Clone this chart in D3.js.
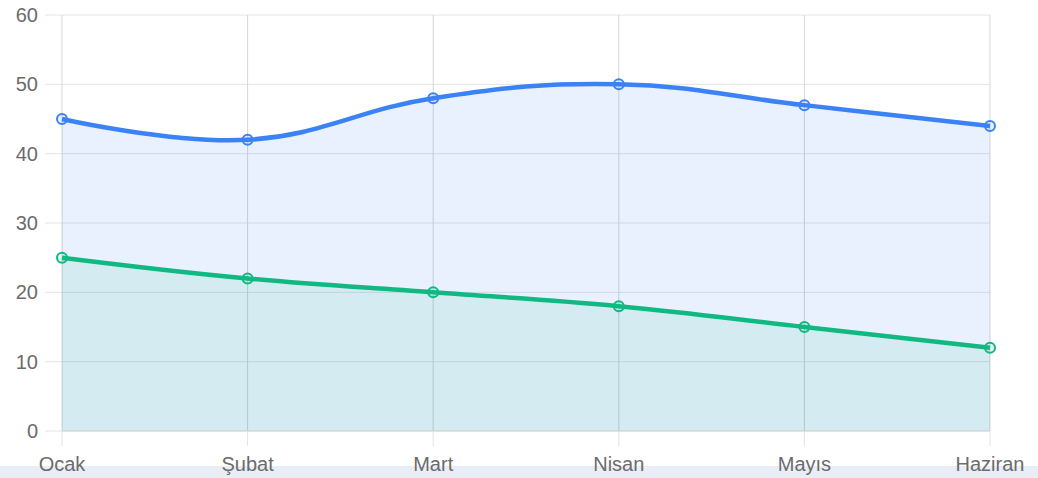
<!DOCTYPE html>
<html>
<head>
<meta charset="utf-8">
<script src="https://cdn.jsdelivr.net/npm/d3@7"></script>
<style>
  html, body { margin: 0; padding: 0; background: #fff; }
  svg { display: block; }
</style>
</head>
<body>
<div id="chart"></div>
<script>
const months = ["Ocak", "Şubat", "Mart", "Nisan", "Mayıs", "Haziran"];
const blueValues = [45, 42, 48, 50, 47, 44];
const greenValues = [25, 22, 20, 18, 15, 12];
const yTicks = [0, 10, 20, 30, 40, 50, 60];

const width = 1038, height = 478;

const svg = d3.select("#chart").append("svg")
  .attr("width", width)
  .attr("height", height);

// light strip at the bottom of the page
svg.append("rect")
  .attr("x", 0).attr("y", 466)
  .attr("width", width).attr("height", 12)
  .attr("fill", "#e9eef6");

const x = d3.scalePoint().domain(months).range([62, 990]);
const y = d3.scaleLinear().domain([0, 60]).range([431, 15]);

const grid = "#e4e4e4";

// horizontal grid + y tick marks
svg.append("g")
  .selectAll("line")
  .data(yTicks)
  .enter()
  .append("line")
  .attr("x1", 45).attr("x2", 990)
  .attr("y1", d => y(d)).attr("y2", d => y(d))
  .attr("stroke", grid).attr("stroke-width", 1);

// vertical grid + x tick marks
svg.append("g")
  .selectAll("line")
  .data(months)
  .enter()
  .append("line")
  .attr("x1", d => x(d)).attr("x2", d => x(d))
  .attr("y1", 15).attr("y2", 446)
  .attr("stroke", grid).attr("stroke-width", 1);

const curve = d3.curveCardinal.tension(-0.2);

const series = [
  { values: greenValues, color: "#10b981", fill: "rgba(16,185,129,0.1)" },
  { values: blueValues, color: "#3b82f6", fill: "rgba(59,130,246,0.11)" }
];

const area = d3.area()
  .curve(curve)
  .x((d, i) => x(months[i]))
  .y0(y(0))
  .y1(d => y(d));

const line = d3.line()
  .curve(curve)
  .x((d, i) => x(months[i]))
  .y(d => y(d));

// fills first (blue under green)
svg.append("g")
  .selectAll("path")
  .data(series.slice().reverse())
  .enter()
  .append("path")
  .attr("d", s => area(s.values))
  .attr("fill", s => s.fill);

// grid drawn above fills looks slightly darker in the reference
svg.append("g")
  .selectAll("line")
  .data(months)
  .enter()
  .append("line")
  .attr("x1", d => x(d)).attr("x2", d => x(d))
  .attr("y1", 15).attr("y2", 431)
  .attr("stroke", "rgba(0,0,0,0.06)").attr("stroke-width", 1);

svg.append("line")
  .attr("x1", 62).attr("x2", 990)
  .attr("y1", y(0)).attr("y2", y(0))
  .attr("stroke", "#d6d6d6");

series.forEach(s => {
  svg.append("path")
    .attr("d", line(s.values))
    .attr("fill", "none")
    .attr("stroke", s.color)
    .attr("stroke-width", 4.5);

  svg.append("g")
    .selectAll("circle")
    .data(s.values)
    .enter()
    .append("circle")
    .attr("cx", (d, i) => x(months[i]))
    .attr("cy", d => y(d))
    .attr("r", 5)
    .attr("fill", s.fill)
    .attr("stroke", s.color)
    .attr("stroke-width", 2);
});

// y labels
svg.append("g")
  .selectAll("text")
  .data(yTicks)
  .enter()
  .append("text")
  .attr("x", 38)
  .attr("y", d => y(d))
  .attr("dy", "0.35em")
  .attr("text-anchor", "end")
  .attr("font-family", "'Liberation Sans', Arial, sans-serif")
  .attr("font-size", 20)
  .attr("fill", "#6b6b6b")
  .text(d => d);

// x labels
svg.append("g")
  .selectAll("text")
  .data(months)
  .enter()
  .append("text")
  .attr("x", d => x(d))
  .attr("y", 471)
  .attr("text-anchor", "middle")
  .attr("font-family", "'Liberation Sans', Arial, sans-serif")
  .attr("font-size", 20)
  .attr("fill", "#6b6b6b")
  .text(d => d);
</script>
</body>
</html>
